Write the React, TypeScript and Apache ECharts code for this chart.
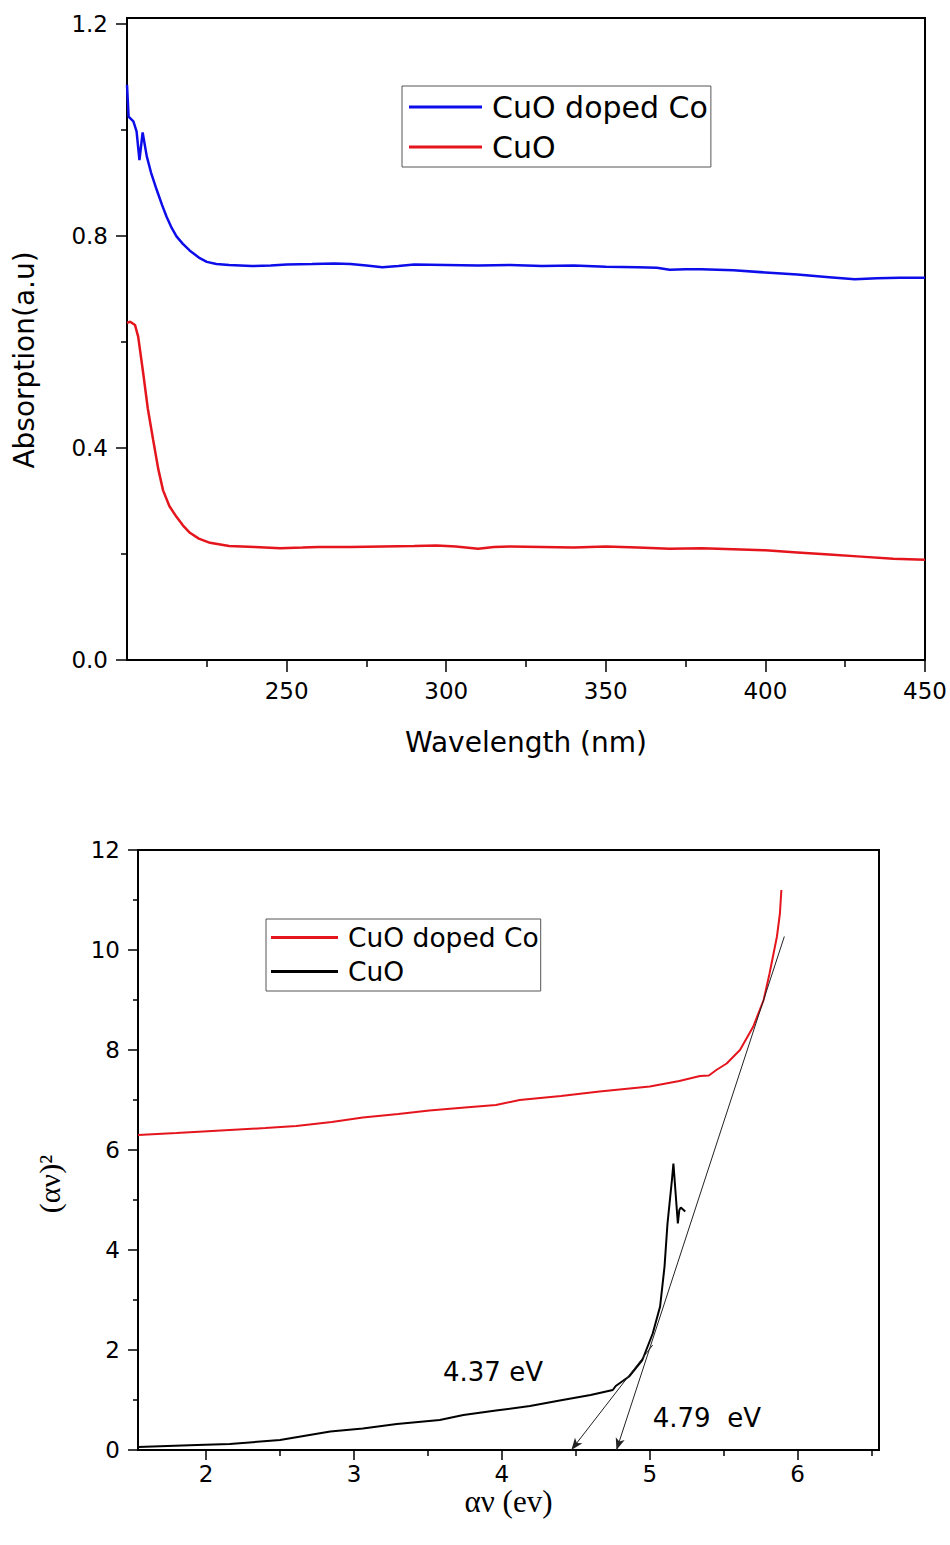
import React, { useEffect, useRef } from "react";
import * as echarts from "echarts";

// ---------- Data: top chart (absorption spectra) ----------
const absDopedCo: number[][] = [
  [200, 1.085], [200.5, 1.025], [202, 1.016], [203, 0.997], [203.9, 0.943], [204.9, 0.995],
  [206.2, 0.95], [207.5, 0.92], [209.3, 0.887], [211, 0.858], [212.4, 0.836], [214, 0.815],
  [215.5, 0.799], [217.5, 0.785], [219.7, 0.772], [222.8, 0.758], [225, 0.751], [228, 0.747],
  [232, 0.745], [239, 0.743], [245, 0.744], [250, 0.746], [258, 0.747], [265, 0.748],
  [270, 0.747], [275, 0.744], [280, 0.741], [285, 0.743], [290, 0.746], [300, 0.745],
  [310, 0.744], [320, 0.745], [330, 0.743], [340, 0.744], [350, 0.742], [360, 0.741],
  [366, 0.740], [370, 0.736], [375, 0.737], [380, 0.737], [390, 0.735], [400, 0.731],
  [410, 0.727], [420, 0.722], [428, 0.718], [435, 0.720], [442, 0.721], [450, 0.721],
];
const absCuO: number[][] = [
  [200, 0.636], [201, 0.638], [202.5, 0.632], [203.5, 0.61], [204.3, 0.575], [205.1, 0.54],
  [206.5, 0.475], [208.2, 0.415], [209.8, 0.36], [211.3, 0.32], [213.3, 0.29], [215.5, 0.27],
  [217.5, 0.254], [219.7, 0.24], [222.5, 0.229], [226, 0.221], [232, 0.215], [240, 0.213],
  [248, 0.211], [255, 0.212], [260, 0.213], [270, 0.213], [280, 0.214], [290, 0.215],
  [297, 0.216], [303, 0.214], [310, 0.210], [315, 0.213], [320, 0.214], [330, 0.213],
  [340, 0.212], [350, 0.214], [360, 0.212], [370, 0.210], [380, 0.211], [390, 0.209],
  [400, 0.207], [410, 0.203], [420, 0.199], [430, 0.195], [440, 0.191], [450, 0.189],
];
const topXTicks = [250, 300, 350, 400, 450];
const topYTicks = [0, 0.4, 0.8, 1.2];

// ---------- Data: bottom chart (Tauc plot) ----------
const taucDopedCo: number[][] = [
  [1.54, 6.30], [1.8, 6.34], [2.16, 6.40], [2.4, 6.44], [2.61, 6.48], [2.85, 6.56],
  [3.06, 6.65], [3.3, 6.72], [3.51, 6.79], [3.75, 6.85], [3.96, 6.90], [4.12, 7.0],
  [4.4, 7.08], [4.66, 7.17], [5.0, 7.27], [5.2, 7.38], [5.34, 7.48], [5.4, 7.49],
  [5.45, 7.6], [5.52, 7.73], [5.61, 8.0], [5.70, 8.47], [5.77, 9.0], [5.81, 9.53],
  [5.86, 10.27], [5.88, 10.73], [5.89, 11.2],
];
const taucCuO: number[][] = [
  [1.54, 0.06], [1.94, 0.10], [2.16, 0.12], [2.5, 0.2], [2.84, 0.37], [3.06, 0.43],
  [3.29, 0.52], [3.58, 0.60], [3.74, 0.70], [3.96, 0.79], [4.19, 0.88], [4.41, 1.0],
  [4.6, 1.1], [4.75, 1.2], [4.77, 1.28], [4.86, 1.47], [4.95, 1.80], [5.02, 2.33],
  [5.07, 2.87], [5.10, 3.67], [5.12, 4.53], [5.15, 5.4], [5.16, 5.73], [5.19, 4.53],
  [5.20, 4.8], [5.21, 4.85], [5.24, 4.77],
];
const tangentSteep: number[][] = [[5.91, 10.27], [4.775, 0]];
const tangentShallow: number[][] = [[5.02, 2.1], [4.47, 0]];
const gapLabels = [
  { text: "4.37 eV", at: [3.94, 1.56] },
  { text: "4.79  eV", at: [5.386, 0.65] },
];
const botXTicks = [2, 3, 4, 5, 6];
const botYTicks = [0, 2, 4, 6, 8, 10, 12];

const LABELS: Record<string, string> = {
  topDoped: "CuO doped Co",
  topPure: "CuO",
  botDoped: "CuO doped Co",
  botPure: "CuO",
};

const SANS = "'DejaVu Sans', 'Liberation Sans', sans-serif";
const SERIF = "'Liberation Serif', 'Times New Roman', serif";
const BLUE = "#0d0dea";
const RED = "#e4151d";
const BLACK = "#000000";

const axisLine = { show: true, onZero: false, lineStyle: { color: BLACK, width: 2 } };
const noSplit = { show: false };

export default function App() {
  const ref = useRef<HTMLDivElement>(null);

  useEffect(() => {
    if (!ref.current) return;
    const chart = echarts.init(ref.current, undefined, { renderer: "svg" });

    const option: any = {
      animation: false,
      backgroundColor: "#ffffff",
      grid: [
        { left: 127, top: 18, width: 798, height: 642, show: true, borderColor: BLACK, borderWidth: 2, backgroundColor: "transparent" },
        { left: 138, top: 850, width: 741, height: 600, show: true, borderColor: BLACK, borderWidth: 2, backgroundColor: "transparent" },
      ],
      xAxis: [
        {
          type: "value", gridIndex: 0, min: 200, max: 450, interval: 50,
          name: "Wavelength (nm)", nameLocation: "middle", nameGap: 68,
          nameTextStyle: { fontFamily: SANS, fontSize: 28, color: BLACK },
          axisLine,
          axisTick: { show: true, inside: false, length: 12, customValues: topXTicks, lineStyle: { color: BLACK, width: 1.5 } },
          minorTick: { show: true, splitNumber: 2, length: 7, lineStyle: { color: BLACK, width: 1.5 } },
          axisLabel: { margin: 19, fontFamily: SANS, fontSize: 23, color: BLACK, customValues: topXTicks, formatter: (v: number) => String(v) },
          splitLine: noSplit, minorSplitLine: noSplit,
        },
        {
          type: "value", gridIndex: 1, min: 1.54, max: 6.55, minInterval: 1, maxInterval: 1,
          name: "αν (ev)", nameLocation: "middle", nameGap: 34,
          nameTextStyle: { fontFamily: SERIF, fontSize: 31, color: BLACK },
          axisLine,
          axisTick: { show: true, inside: false, length: 10, customValues: botXTicks, lineStyle: { color: BLACK, width: 1.5 } },
          minorTick: { show: true, splitNumber: 2, length: 6, lineStyle: { color: BLACK, width: 1.5 } },
          axisLabel: { margin: 12, fontFamily: SANS, fontSize: 23, color: BLACK, customValues: botXTicks, formatter: (v: number) => String(v) },
          splitLine: noSplit, minorSplitLine: noSplit,
        },
      ],
      yAxis: [
        {
          type: "value", gridIndex: 0, min: 0, max: 1.211, interval: 0.4,
          name: "Absorption(a.u)", nameLocation: "middle", nameGap: 89,
          nameTextStyle: { fontFamily: SANS, fontSize: 28, color: BLACK, padding: [0, 42, 0, 0] },
          axisLine,
          axisTick: { show: true, inside: false, length: 11, customValues: topYTicks, lineStyle: { color: BLACK, width: 1.5 } },
          minorTick: { show: true, splitNumber: 2, length: 6, lineStyle: { color: BLACK, width: 1.5 } },
          axisLabel: { margin: 19, fontFamily: SANS, fontSize: 23, color: BLACK, customValues: topYTicks, formatter: (v: number) => v.toFixed(1) },
          splitLine: noSplit, minorSplitLine: noSplit,
        },
        {
          type: "value", gridIndex: 1, min: 0, max: 12, interval: 2,
          name: "(αν)²", nameLocation: "middle", nameGap: 74,
          nameTextStyle: { fontFamily: SERIF, fontSize: 30, color: BLACK, padding: [0, 68, 0, 0] },
          axisLine,
          axisTick: { show: true, inside: false, length: 10, customValues: botYTicks, lineStyle: { color: BLACK, width: 1.5 } },
          minorTick: { show: true, splitNumber: 2, length: 5, lineStyle: { color: BLACK, width: 1.5 } },
          axisLabel: { margin: 18, fontFamily: SANS, fontSize: 23, color: BLACK, customValues: botYTicks, formatter: (v: number) => String(v) },
          splitLine: noSplit, minorSplitLine: noSplit,
        },
      ],
      legend: [
        {
          data: ["topDoped", "topPure"], orient: "vertical", left: 402, top: 86,
          padding: [6, 3, 5, 7], itemGap: 10, itemWidth: 73, itemHeight: 3, icon: "rect",
          borderColor: "#555", borderWidth: 1, selectedMode: false,
          itemStyle: { borderWidth: 0 },
          formatter: (n: string) => LABELS[n],
          textStyle: { fontFamily: SANS, fontSize: 30, lineHeight: 30, color: BLACK, padding: [0, 0, 0, 5] },
        },
        {
          data: ["botDoped", "botPure"], orient: "vertical", left: 266, top: 919,
          padding: [5, 2, 6, 5], itemGap: 7, itemWidth: 67, itemHeight: 3, icon: "rect",
          borderColor: "#555", borderWidth: 1, selectedMode: false,
          itemStyle: { borderWidth: 0 },
          formatter: (n: string) => LABELS[n],
          textStyle: { fontFamily: SANS, fontSize: 26.5, lineHeight: 26.5, color: BLACK, padding: [0, 0, 0, 5] },
        },
      ],
      series: [
        {
          name: "topDoped", type: "line", xAxisIndex: 0, yAxisIndex: 0, data: absDopedCo,
          symbol: "none", lineStyle: { color: BLUE, width: 2.5 }, itemStyle: { color: BLUE },
        },
        {
          name: "topPure", type: "line", xAxisIndex: 0, yAxisIndex: 0, data: absCuO,
          symbol: "none", lineStyle: { color: RED, width: 2.5 }, itemStyle: { color: RED },
        },
        {
          name: "botDoped", type: "line", xAxisIndex: 1, yAxisIndex: 1, data: taucDopedCo,
          symbol: "none", lineStyle: { color: RED, width: 2 }, itemStyle: { color: RED },
        },
        {
          name: "botPure", type: "line", xAxisIndex: 1, yAxisIndex: 1, data: taucCuO,
          symbol: "none", lineStyle: { color: BLACK, width: 2 }, itemStyle: { color: BLACK },
          markLine: {
            silent: true, symbol: ["none", "arrow"], symbolSize: [7, 12], precision: 3,
            lineStyle: { color: "#222", width: 1, type: "solid" },
            label: { show: false },
            emphasis: { disabled: true },
            data: [
              [{ coord: tangentSteep[0] }, { coord: tangentSteep[1] }],
              [{ coord: tangentShallow[0] }, { coord: tangentShallow[1] }],
            ],
          },
          markPoint: {
            silent: true, symbol: "circle", symbolSize: 1,
            itemStyle: { color: "transparent" },
            label: { show: true, position: "inside", formatter: "{b}", fontFamily: SANS, fontSize: 26, color: BLACK },
            data: gapLabels.map((g) => ({ name: g.text, coord: g.at })),
          },
        },
      ],
    };

    chart.setOption(option);
    return () => chart.dispose();
  }, []);

  return (
    <div
      ref={ref}
      style={{ position: "absolute", left: 0, top: 0, width: 950, height: 1545, background: "#fff" }}
    />
  );
}
